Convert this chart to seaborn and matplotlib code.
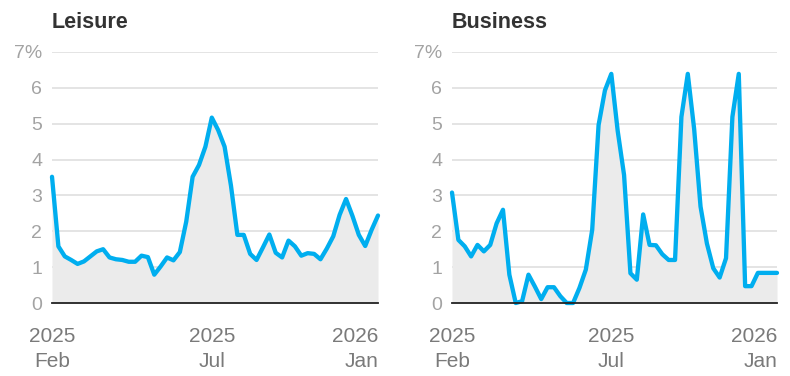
import numpy as np
import pandas as pd
import matplotlib
matplotlib.use("Agg")
import matplotlib.pyplot as plt
import seaborn as sns

# ---- data (weekly share, %) ----
leisure = [3.52, 1.58, 1.30, 1.20, 1.09, 1.16, 1.30, 1.44, 1.50, 1.27,
           1.22, 1.20, 1.15, 1.15, 1.32, 1.28, 0.79, 1.02, 1.27, 1.19,
           1.42, 2.27, 3.52, 3.85, 4.36, 5.17, 4.82, 4.36, 3.27, 1.90,
           1.90, 1.37, 1.20, 1.55, 1.91, 1.40, 1.27, 1.74, 1.58, 1.32,
           1.39, 1.37, 1.22, 1.52, 1.86, 2.46, 2.90, 2.43, 1.90, 1.59,
           2.04, 2.44]
business = [3.08, 1.76, 1.58, 1.30, 1.62, 1.44, 1.62, 2.22, 2.60, 0.79,
            0.00, 0.05, 0.79, 0.46, 0.11, 0.44, 0.44, 0.19, 0.00, 0.00,
            0.42, 0.93, 2.04, 4.96, 5.93, 6.39, 4.80, 3.57, 0.83, 0.65,
            2.47, 1.62, 1.61, 1.36, 1.20, 1.20, 5.19, 6.39, 4.85, 2.69,
            1.66, 0.97, 0.71, 1.25, 5.19, 6.39, 0.47, 0.47, 0.84, 0.84,
            0.84, 0.84]
weeks = list(range(len(leisure)))
panels = ["Leisure", "Business"]
x_tick_pos = [0, 25, 51]
x_tick_labels = ["2025\nFeb", "2025\nJul", "2026\nJan"]
y_ticks = [0, 1, 2, 3, 4, 5, 6, 7]
y_tick_labels = ["0", "1", "2", "3", "4", "5", "6", "7%"]

df = pd.DataFrame({"week": weeks * 2,
                   "share": leisure + business,
                   "segment": ["Leisure"] * len(leisure) + ["Business"] * len(business)})

sns.set_theme(style="white")
plt.rcParams["font.family"] = ["Liberation Sans", "DejaVu Sans"]

LINE = "#00AEEF"
FILL = "#EBEBEB"
GRID = "#E2E2E2"

fig = plt.figure(figsize=(7.9, 3.76), dpi=100)
axes = [fig.add_axes([52 / 790, 73 / 376, 326 / 790, 251 / 376]),
        fig.add_axes([452 / 790, 73 / 376, 325 / 790, 251 / 376])]

for ax, name in zip(axes, panels):
    d = df[df["segment"] == name]
    ax.fill_between(d["week"], 0, d["share"], color=FILL, lw=0, zorder=1)
    for yv in y_ticks[1:]:
        ax.axhline(yv, color=GRID, lw=1.3, zorder=0.5)
    sns.lineplot(data=d, x="week", y="share", ax=ax, color=LINE, lw=3.1,
                 zorder=3, clip_on=False, solid_joinstyle="round",
                 solid_capstyle="round")
    ax.set_xlim(0, 51)
    ax.set_ylim(0, 7)
    ax.set_xlabel("")
    ax.set_ylabel("")
    for s in ["left", "right", "top"]:
        ax.spines[s].set_visible(False)
    ax.spines["bottom"].set_color("#222222")
    ax.spines["bottom"].set_linewidth(1.3)
    ax.spines["bottom"].set_zorder(4)
    ax.set_yticks(y_ticks)
    ax.set_yticklabels(y_tick_labels)
    ax.tick_params(axis="y", length=0, pad=7, labelsize=14, labelcolor="#A3A3A3")
    ax.set_xticks(x_tick_pos)
    ax.set_xticklabels(x_tick_labels, linespacing=1.45)
    ax.tick_params(axis="x", length=6, width=1.2, color="#222222", pad=11,
                   labelsize=15, labelcolor="#7A7A7A", direction="out")
    labs = ax.get_xticklabels()
    labs[-1].set_horizontalalignment("right")
    labs[-1].set_multialignment("right")
    ax.set_title(name, loc="left", fontsize=15.5, fontweight="bold",
                 color="#333333", pad=17)
    ax.set_facecolor("none")

fig.savefig("out.png", dpi=100)
